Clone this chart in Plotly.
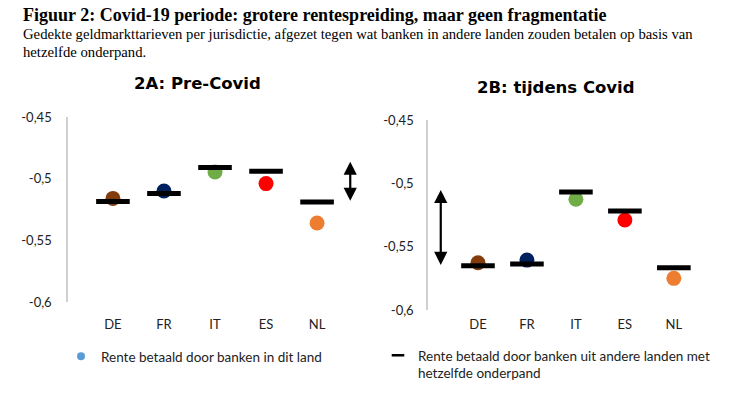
import plotly.graph_objects as go

# data
countries = ['DE', 'FR', 'IT', 'ES', 'NL']
dot_colors = ['#843C0C', '#002060', '#70AD47', '#FF0000', '#ED7D31']

pre_own = [-0.516, -0.510, -0.4945, -0.504, -0.536]
pre_other = [-0.5185, -0.512, -0.491, -0.494, -0.519]

covid_own = [-0.5627, -0.5606, -0.5126, -0.529, -0.575]
covid_other = [-0.565, -0.5637, -0.5068, -0.5219, -0.5666]

# double arrows showing the spread (start, end)
pre_arrow = [-0.485, -0.518]
covid_arrow = [-0.504, -0.5645]

ytick_vals = [-0.6, -0.55, -0.5, -0.45]
ytick_text = ['-0,6', '-0,55', '-0,5', '-0,45']

legend_own = 'Rente betaald door banken in dit land'
legend_other = 'Rente betaald door banken uit andere landen met<br>hetzelfde onderpand'

SANS = 'Lato'
SERIF = 'Liberation Serif'

xpos = list(range(len(countries)))

fig = go.Figure()

for own, other, xa, ya in [(pre_own, pre_other, 'x', 'y'),
                           (covid_own, covid_other, 'x2', 'y2')]:
    fig.add_trace(go.Scatter(
        x=xpos, y=own, mode='markers', xaxis=xa, yaxis=ya,
        marker=dict(size=15, color=dot_colors), showlegend=False
    ))
    fig.add_trace(go.Scatter(
        x=xpos, y=other, mode='markers', xaxis=xa, yaxis=ya,
        marker=dict(symbol='line-ew', size=24, line=dict(width=5, color='black')),
        showlegend=False
    ))

# legend-only entries
fig.add_trace(go.Scatter(
    x=[None], y=[None], mode='markers', name=legend_own,
    marker=dict(size=8, color='#5B9BD5'), legend='legend'
))
fig.add_trace(go.Scatter(
    x=[None], y=[None], mode='markers', name=legend_other,
    marker=dict(symbol='line-ew', size=9, line=dict(width=2.5, color='black')),
    legend='legend2'
))

axis_font = dict(family=SANS, size=13, color='#222')
legend_font = dict(family=SANS, size=13.5, color='#222')

fig.update_layout(
    width=750, height=400,
    margin=dict(l=0, r=0, t=0, b=0, autoexpand=False),
    paper_bgcolor='white', plot_bgcolor='white',
    xaxis=dict(domain=[0.0907, 0.484], range=[-0.88, 4.9],
               tickvals=xpos, ticktext=countries, showline=False,
               showgrid=False, zeroline=False, ticks='', automargin=False,
               ticklabelstandoff=13, tickfont=axis_font),
    yaxis=dict(domain=[0.245, 0.7075], range=[-0.6, -0.45],
               tickvals=ytick_vals, ticktext=ytick_text,
               showline=True, linecolor='#d0d0d0', linewidth=1.5,
               showgrid=False, zeroline=False, ticks='', automargin=False,
               ticklabelstandoff=12, tickfont=axis_font),
    xaxis2=dict(domain=[0.5707, 0.9507], range=[-1.02, 4.8], anchor='y2',
                tickvals=xpos, ticktext=countries, showline=False,
                showgrid=False, zeroline=False, ticks='', automargin=False,
                ticklabelstandoff=5, tickfont=axis_font),
    yaxis2=dict(domain=[0.225, 0.70], range=[-0.6, -0.45], anchor='x2',
                tickvals=ytick_vals, ticktext=ytick_text,
                showline=True, linecolor='#d0d0d0', linewidth=1.5,
                showgrid=False, zeroline=False, ticks='', automargin=False,
                ticklabelstandoff=10, tickfont=axis_font),
    legend=dict(x=61 / 750, y=1 - 341 / 400, xanchor='left', yanchor='top',
                font=legend_font, bgcolor='rgba(0,0,0,0)', itemwidth=30),
    legend2=dict(x=378 / 750, y=1 - 340 / 400, xanchor='left', yanchor='top',
                 font=legend_font, bgcolor='rgba(0,0,0,0)', valign='top', itemwidth=30),
)

fig.add_annotation(
    text='<b>Figuur 2: Covid-19 periode: grotere rentespreiding, maar geen fragmentatie</b>',
    xref='paper', yref='paper', x=21 / 750, y=1 - 15 / 400, xanchor='left', yanchor='middle',
    showarrow=False, font=dict(family=SERIF, size=18, color='black')
)
subtitle_lines = [
    'Gedekte geldmarkttarieven per jurisdictie, afgezet tegen wat banken in andere landen zouden betalen op basis van',
    'hetzelfde onderpand.',
]
for line, ypx in zip(subtitle_lines, [34, 52]):
    fig.add_annotation(
        text=line, xref='paper', yref='paper', x=21 / 750, y=1 - ypx / 400,
        xanchor='left', yanchor='middle', showarrow=False,
        font=dict(family=SERIF, size=14.7, color='black')
    )
fig.add_annotation(
    text='<b>2A: Pre-Covid</b>', xref='paper', yref='paper',
    x=197 / 750, y=1 - 83 / 400, xanchor='center', yanchor='middle', showarrow=False,
    font=dict(family='DejaVu Sans', size=16.5, color='black')
)
fig.add_annotation(
    text='<b>2B: tijdens Covid</b>', xref='paper', yref='paper',
    x=556 / 750, y=1 - 87 / 400, xanchor='center', yanchor='middle', showarrow=False,
    font=dict(family='DejaVu Sans', size=16.5, color='black')
)

# double-headed spread arrows
for xa, ya, xval, arr in [('x', 'y', 4.65, pre_arrow), ('x2', 'y2', -0.76, covid_arrow)]:
    fig.add_annotation(
        xref=xa, yref=ya, axref=xa, ayref=ya,
        x=xval, y=arr[1], ax=xval, ay=arr[0], text='',
        showarrow=True, arrowside='end+start', arrowhead=2,
        arrowsize=1.2, arrowwidth=2.2, arrowcolor='black'
    )

fig.write_html('out.html', config={'displayModeBar': False},
               post_script="document.body.style.margin='0';")
